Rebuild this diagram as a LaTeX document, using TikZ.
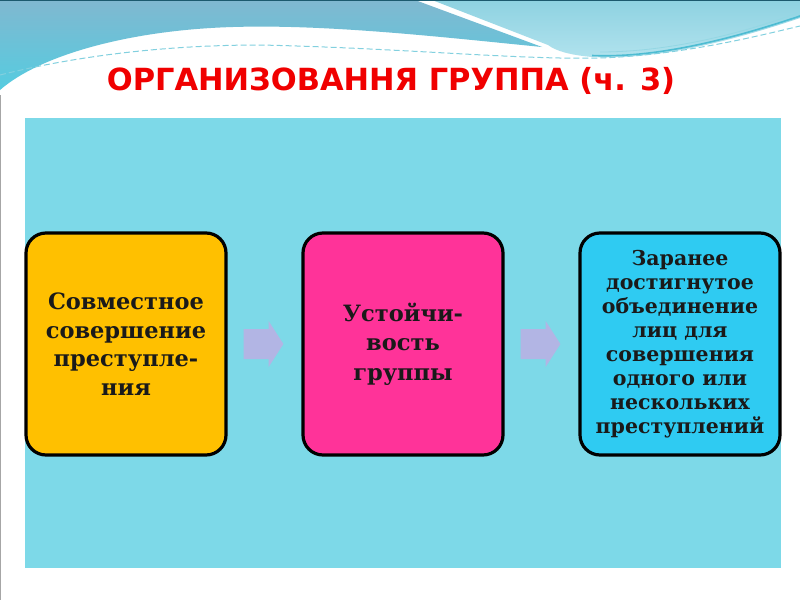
\documentclass[tikz,border=0pt]{standalone}
\usepackage{fontspec}
\setmainfont{DejaVu Serif}
\newfontfamily\titlefont{DejaVu Sans}
\usetikzlibrary{calc}
\definecolor{panelc}{HTML}{7DD9E8}
\definecolor{yellowc}{HTML}{FFC000}
\definecolor{pinkc}{HTML}{FF3399}
\definecolor{bluec}{HTML}{2FCBF2}
\definecolor{arrowc}{HTML}{B2B5E4}
\definecolor{waveA}{HTML}{80B8D0}
\definecolor{waveAb}{HTML}{55CCE0}
\definecolor{waveB}{HTML}{8ED2E1}
\definecolor{waveBb}{HTML}{B2E3EE}
\definecolor{tealc}{HTML}{4DBCD2}
\definecolor{darkline}{HTML}{1C5A6E}
\definecolor{titlered}{HTML}{F00000}
\definecolor{textc}{HTML}{1A1A1A}
\tikzset{
  stepbox/.style={draw=black, line width=3.2pt, rounded corners=20pt,
    minimum width=200pt, minimum height=222pt, inner sep=0pt,
    align=center, text=textc, font=\bfseries},
  blockarrow/.style={fill=arrowc}
}
\begin{document}
\begin{tikzpicture}[x=1pt,y=-1pt]
\useasboundingbox (0,0) rectangle (800,600);
\fill[white] (0,0) rectangle (800,600);
% top waves
\shade[top color=waveA, bottom color=waveAb]
  (0,0) -- (415,0) -- (542,47)
  .. controls (450,38) and (330,24) .. (233,27)
  .. controls (130,30) and (40,55) .. (0,90) -- cycle;
\shade[top color=waveB, bottom color=waveBb]
  (432,0) -- (800,0) -- (800,18)
  .. controls (720,45) and (650,60) .. (592,57)
  .. controls (570,55) and (556,51) .. (548,45) -- cycle;
\draw[tealc, line width=1.6pt] (592,55.5) .. controls (650,58) and (720,43) .. (800,16);
\draw[tealc!60, line width=0.8pt] (600,52) .. controls (660,52) and (730,38) .. (800,12);
\draw[tealc!70, line width=1pt, dash pattern=on 6pt off 3pt]
  (0,75) .. controls (80,55) and (170,45) .. (260,45)
  .. controls (400,48) and (520,60) .. (600,58)
  .. controls (680,55) and (750,38) .. (800,26);
\draw[darkline, line width=2pt] (0,0) -- (800,0);
\draw[gray!70, line width=1pt] (0.5,95) -- (0.5,600);
% title
\node[font=\titlefont\bfseries\fontsize{30.5}{34}\selectfont, text=titlered] (title) at (391,81)
  {ОРГАНИЗОВАННЯ ГРУППА (ч. 3)};
% panel
\fill[panelc] (25,118) rectangle (781,568);
% boxes
\node[stepbox, fill=yellowc, font=\bfseries\fontsize{22.5}{28.5}\selectfont] (b1) at (126,344)
  {Совместное\\совершение\\преступле-\\ния};
\node[stepbox, fill=pinkc, font=\bfseries\fontsize{22.5}{29.5}\selectfont] (b2) at (403,344)
  {Устойчи-\\вость\\группы};
\node[stepbox, fill=bluec, font=\bfseries\fontsize{20.5}{24}\selectfont] (b3) at (680,344)
  {Заранее\\достигнутое\\объединение\\лиц для\\совершения\\одного или\\нескольких\\преступлений};
% block arrows
\foreach \s/\t in {b1/b2, b2/b3} {
  \fill[blockarrow]
    ($(\s.east)+(16,-15)$) -- ($(\s.east)+(41,-15)$) -- ($(\s.east)+(41,-23)$)
    -- ($(\t.west)+(-18,0)$)
    -- ($(\s.east)+(41,23)$) -- ($(\s.east)+(41,15)$) -- ($(\s.east)+(16,15)$) -- cycle;
}
\end{tikzpicture}
\end{document}
